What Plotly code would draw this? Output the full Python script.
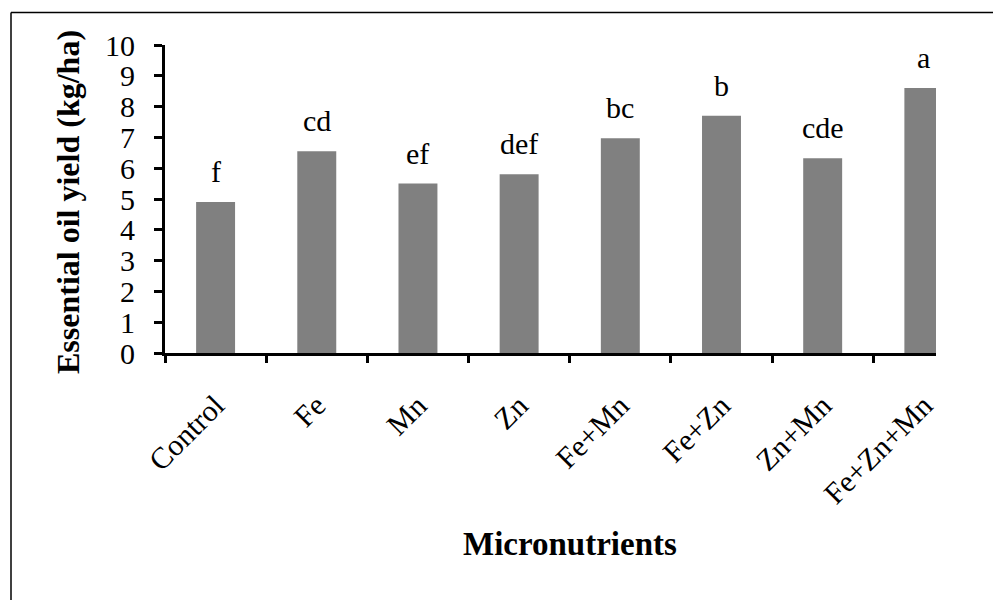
import plotly.graph_objects as go

categories = ["Control", "Fe", "Mn", "Zn", "Fe+Mn", "Fe+Zn", "Zn+Mn", "Fe+Zn+Mn"]
yield_values = [4.9, 6.55, 5.5, 5.8, 6.97, 7.7, 6.32, 8.6]
letters = ["f", "cd", "ef", "def", "bc", "b", "cde", "a"]
y_ticks = list(range(0, 11))

W, H = 993, 600
L, R, T, B = 165, 57, 45, 247
pw, ph = W - L - R, H - T - B

FONT = "Liberation Serif, Times New Roman, serif"


def px_x(p):
    return (p - L) / pw


def px_y(p):
    return (H - B - p) / ph


fig = go.Figure()
fig.add_trace(go.Bar(
    x=categories, y=yield_values, marker=dict(color="#808080", line=dict(width=0)),
    width=0.385,
))

for c, v, t in zip(categories, yield_values, letters):
    fig.add_annotation(x=c, y=v, text=t, showarrow=False, yanchor="bottom",
                       yshift=12, font=dict(family=FONT, size=30, color="black"))

# axis titles placed as annotations
fig.add_annotation(xref="paper", yref="paper", x=px_x(570), y=px_y(544),
                   text="<b>Micronutrients</b>", showarrow=False,
                   xanchor="center", yanchor="middle",
                   font=dict(family=FONT, size=33, color="black"))
fig.add_annotation(xref="paper", yref="paper", x=px_x(68), y=px_y(202),
                   text="<b>Essential oil yield (kg/ha)</b>", showarrow=False,
                   textangle=-90, xanchor="center", yanchor="middle",
                   font=dict(family=FONT, size=32, color="black"))

# outer frame lines (top and left)
fig.add_shape(type="line", xref="paper", yref="paper", x0=px_x(11), x1=px_x(W + 5),
              y0=px_y(12.5), y1=px_y(12.5), line=dict(color="black", width=1.5))
fig.add_shape(type="line", xref="paper", yref="paper", x0=px_x(11), x1=px_x(11),
              y0=px_y(12.5), y1=px_y(H + 5), line=dict(color="black", width=1.5))

fig.update_layout(
    width=W, height=H,
    margin=dict(l=L, r=R, t=T, b=B),
    paper_bgcolor="white", plot_bgcolor="white",
    showlegend=False,
    font=dict(family=FONT, color="black"),
)
fig.update_xaxes(
    range=[-0.5, 7.12], showline=True, linecolor="black", linewidth=3,
    ticks="outside", tickson="boundaries", ticklen=7, tickwidth=3, tickcolor="black",
    tickangle=-45, tickfont=dict(family=FONT, size=30), ticklabelstandoff=20,
    showgrid=False,
)
fig.update_yaxes(
    range=[0, 10], tickvals=y_ticks, showline=True, linecolor="black", linewidth=3,
    ticks="outside", ticklen=8, tickwidth=3, tickcolor="black",
    tickfont=dict(family=FONT, size=30), ticklabelstandoff=13,
    showgrid=False, zeroline=False,
)

fig.write_html("out.html", config={"displayModeBar": False},
               post_script="document.body.style.margin='0px';")
